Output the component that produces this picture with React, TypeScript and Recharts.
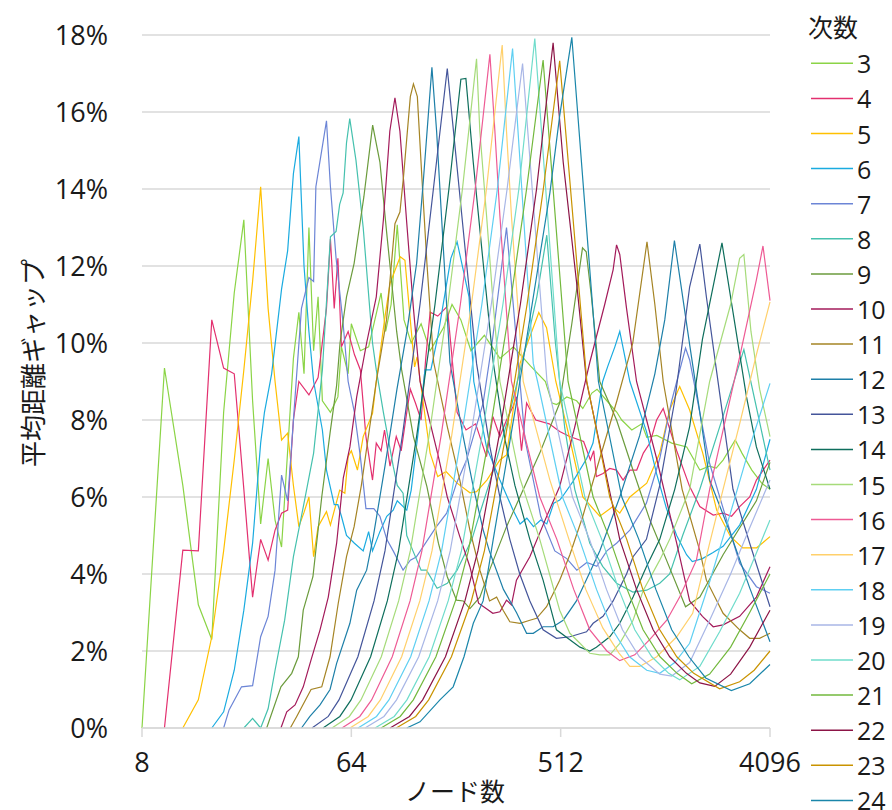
import { LineChart, Line, XAxis, YAxis, CartesianGrid } from 'recharts'

// node count n -> mean-distance gap (%), one list per degree
const deg3 = [[8,0],[10,9.35],[12,6.3],[14,3.2],[16,2.3],[18,8.2],[20,11.3],[22,13.2],[24,8.5],[26,5.3],[28,7.0],[30,5.4],[32,4.7],[34,7.2],[36,9.6],[38,10.8],[40,9.2],[42,13.0],[44,9.8],[46,11.2],[48,8.5],[52,8.2],[56,8.6],[58,9.9],[62,9.2],[64,10.5],[70,9.8],[76,9.9],[86,11.3],[90,10.3],[95,11.0],[101,13.07],[108,10.6],[116,10.0],[128,10.5],[140,9.8],[160,10.4],[174,11.0],[190,10.6],[210,9.8],[240,10.2],[280,9.6],[320,9.9],[380,9.4],[440,9.0],[470,8.44],[492,8.4],[544,8.6],[600,8.5],[638,8.3],[698,8.7],[735,8.8],[810,8.5],[895,8.2],[939,8.0],[1038,7.74],[1146,7.9],[1204,7.55],[1330,7.6],[1543,7.4],[1791,7.3],[2040,6.7],[2240,6.8],[2400,6.75],[2570,6.96],[2900,7.48],[3100,7.14],[3420,6.7],[3770,6.36],[4096,6.2]]
const deg4 = [[10,0],[12,4.62],[14,4.6],[16,10.6],[18,9.35],[20,9.2],[22,6.2],[24,3.4],[26,4.9],[28,4.36],[30,5.14],[32,5.58],[34,5.66],[36,8.0],[38,9.0],[42,8.65],[46,9.1],[50,10.9],[52,12.7],[54,10.9],[56,12.2],[58,9.9],[62,10.3],[66,9.7],[70,9.3],[74,7.57],[79,6.44],[82,7.4],[86,7.2],[89,7.74],[94,6.8],[100,7.57],[105,7.2],[111,8.2],[115,8.8],[121,8.44],[128,8.0],[134,9.6],[140,10.8],[151,10.7],[166,10.95],[183,8.2],[200,7.74],[220,7.9],[245,7.05],[261,8.09],[280,7.57],[299,8.0],[319,8.35],[330,8.6],[347,7.2],[365,8.44],[400,8.0],[457,7.9],[507,7.7],[560,7.57],[643,7.44],[688,6.96],[711,7.2],[730,6.53],[780,6.61],[834,6.74],[892,6.7],[952,6.44],[1018,6.7],[1090,6.7],[1164,7.14],[1242,7.4],[1328,8.0],[1418,8.3],[1621,7.2],[1844,6.27],[2040,5.75],[2330,5.53],[2570,5.58],[2796,5.5],[3030,5.75],[3348,6.0],[3578,6.44],[4096,6.96]]
const deg5 = [[12,0],[14,0.73],[16,2.37],[18,4.6],[20,6.96],[22,9.3],[24,11.6],[26,14.06],[28,10.9],[30,9.0],[32,7.48],[34,7.66],[36,6.3],[38,5.23],[40,5.6],[42,6.0],[44,4.45],[46,5.23],[50,5.62],[52,5.27],[57,6.18],[60,6.1],[62,7.05],[64,7.2],[68,6.7],[72,7.57],[79,8.17],[82,9.0],[89,10.6],[94,11.55],[104,12.24],[109,12.15],[116,10.34],[120,9.38],[123,9.64],[127,9.0],[140,7.14],[151,6.53],[164,6.66],[183,6.36],[208,6.11],[222,6.14],[246,6.44],[280,6.96],[299,7.09],[342,9.47],[412,10.79],[445,10.4],[488,9.0],[561,7.5],[638,6.0],[755,5.5],[860,5.75],[921,5.58],[1018,6.0],[1204,6.36],[1370,7.14],[1512,8.26],[1670,8.87],[1844,8.26],[2100,7.14],[2412,5.66],[2770,4.97],[3120,4.68],[3588,4.68],[4096,4.97]]
const deg6 = [[16,0],[18,0.42],[20,1.5],[22,3.06],[24,4.8],[26,7.4],[27,8.2],[29,9.2],[32,11.4],[34,12.4],[36,14.4],[38,15.36],[40,12.0],[42,10.3],[44,9.0],[48,7.74],[50,6.7],[54,5.8],[56,5.8],[58,5.5],[61,5.0],[66,4.8],[72,4.6],[76,5.1],[79,4.6],[85,5.1],[91,5.5],[97,5.66],[101,5.9],[111,5.66],[116,6.18],[125,7.8],[133,9.3],[141,9.3],[151,10.16],[172,12.2],[183,12.63],[196,11.8],[206,11.2],[216,9.0],[245,7.3],[280,6.44],[319,5.66],[342,5.3],[366,5.45],[391,5.23],[420,5.4],[446,5.3],[478,5.84],[507,5.92],[520,6.0],[578,6.4],[663,7.0],[706,7.4],[777,9.0],[818,9.4],[877,9.9],[921,10.3],[950,9.9],[1018,9.0],[1201,7.7],[1328,6.6],[1465,5.7],[1621,5.0],[1788,4.5],[1893,4.32],[2094,4.4],[2317,4.55],[2570,4.72],[3030,5.27],[3578,6.2],[4096,7.5]]
const deg7 = [[18,0],[19,0.47],[21.5,1.07],[24,1.1],[26,2.37],[28,2.9],[30,4.1],[32,6.57],[34,5.9],[37,9.0],[39,10.9],[42,11.7],[44,11.6],[45,14.06],[50,15.77],[52,14.06],[55,12.2],[59,10.5],[62,9.0],[66,8.2],[70,7.05],[74,5.7],[80,5.7],[85,5.5],[91,4.9],[97,4.6],[107,4.1],[115,4.36],[122,4.44],[149,5.23],[165,5.58],[182,6.36],[201,6.96],[215,7.57],[237,8.44],[259,10.0],[285,12.0],[299,13.0],[325,10.5],[359,7.5],[420,5.5],[483,4.6],[544,4.4],[601,4.1],[664,4.3],[733,4.2],[810,4.6],[892,4.8],[1018,5.14],[1200,5.84],[1370,7.0],[1543,8.5],[1770,9.87],[1844,9.56],[2249,6.87],[3030,4.28],[3578,3.67],[4096,3.5]]
const deg8 = [[22,0],[24,0.25],[26,0],[28,0.5],[30,1.5],[33,2.8],[36,4.45],[40,5.84],[44,7.14],[48,9.3],[52,12.76],[55,12.9],[57,13.6],[59,13.9],[61,15.2],[63,15.83],[67,14.75],[72,13.0],[79,10.0],[82,9.3],[88,8.2],[97,6.8],[101,6.3],[107,6.1],[111,5.0],[118,4.6],[128,4.1],[135,4.1],[150,3.63],[159,3.7],[166,3.76],[183,4.1],[212,4.9],[230,5.6],[266,6.8],[309,8.2],[359,9.8],[404,11.2],[446,12.8],[486,10.0],[533,7.8],[589,6.2],[684,4.8],[777,4.2],[892,3.76],[1048,3.53],[1204,3.58],[1370,3.76],[1512,4.0],[1720,5.0],[2040,6.2],[2570,8.1],[3160,9.83],[4096,6.7]]
const deg9 = [[27.6,0],[31.8,1.07],[35.4,1.42],[37.8,1.85],[39.7,3.06],[43.7,3.93],[47.7,6.0],[51.8,7.66],[55.3,8.9],[57.2,10.0],[61,11.2],[65.8,12.07],[72.5,13.8],[79.1,15.66],[85,14.7],[90.8,12.9],[100.4,10.3],[105.5,9.3],[118.6,7.57],[135.6,6.27],[152,4.8],[166,3.93],[182,3.32],[194.6,3.3],[207.8,3.1],[229.5,3.4],[252.6,4.1],[299,5.23],[416,7.14],[507,8.44],[572,10.5],[636,12.47],[660,12.37],[695,11.2],[755,9.0],[892,8.0],[1050,6.7],[1242,5.4],[1465,4.36],[1770,3.15],[2040,3.4],[2570,4.5],[3578,5.9],[4096,6.9]]
const deg10 = [[31.8,0],[33.7,0.42],[36.6,0.6],[39.7,1.07],[42.9,1.77],[46.9,2.55],[50.9,3.4],[55.3,4.8],[59.1,6.5],[63.1,7.3],[67.5,8.6],[74.5,10.0],[82,11.2],[88,13.2],[93.8,15.5],[98.7,16.37],[103.7,15.5],[110.7,13.2],[118.6,10.9],[126.6,9.0],[152,7.05],[166,6.0],[188,4.97],[207.8,4.19],[226.5,3.24],[245,3.1],[261,2.98],[280,3.02],[299,3.32],[314,3.2],[330,3.84],[377,4.45],[445,5.49],[507,6.27],[588,7.8],[684,9.5],[793,11.0],[862,11.9],[892,12.55],[921,12.3],[985,10.9],[1088,9.0],[1328,7.0],[1621,4.8],[1844,3.3],[2094,2.9],[2330,2.63],[2570,2.68],[3030,2.9],[3578,3.4],[4096,4.19]]
const deg11 = [[34.9,0],[37.2,0.3],[42.9,1.0],[47.7,1.07],[51.8,1.85],[56.2,3.24],[61,4.45],[65.8,5.23],[70.7,6.3],[75.9,7.6],[82,9.0],[90.8,10.6],[98.7,13.1],[103.7,13.4],[107.4,14.3],[115,16.4],[118.6,16.73],[123.3,16.4],[129,14.3],[135.6,12.07],[145,9.5],[166,7.83],[188,6.44],[207.8,5.14],[229.5,4.1],[252.6,3.3],[271,3.4],[289,3.06],[309,2.76],[342,2.72],[377,2.8],[403,2.85],[445,3.15],[476,3.5],[507,3.84],[561,4.5],[638,5.5],[755,7.0],[895,8.5],[1048,10.0],[1207,12.63],[1305,11.0],[1418,9.0],[1711,6.2],[2040,4.6],[2177,3.84],[2570,2.98],[3030,2.55],[3348,2.33],[3695,2.33],[4096,2.46]]
const deg12 = [[39,0],[42.4,0.3],[46.9,0.6],[51.8,1.0],[55.3,1.68],[63.1,2.72],[67.5,3.58],[74.5,4.1],[79.6,4.97],[89.4,6.8],[100.7,8.8],[111.2,10.3],[122.4,12.07],[130.8,14.2],[142.5,17.16],[149.3,15.5],[159.5,12.5],[170.4,9.5],[194.5,7.57],[214.8,6.27],[237.2,5.14],[252,4.6],[290,3.6],[330,3.0],[365,2.46],[390,2.46],[430,2.63],[475,2.63],[525,2.8],[599,3.3],[755,4.6],[921,6.0],[1123,7.6],[1305,9.2],[1440,10.6],[1585,12.66],[1844,9.96],[2040,8.2],[2249,6.44],[2770,5.04],[3348,3.64],[4096,2.24]]
const deg13 = [[43.3,0],[50.9,0.3],[56.6,0.73],[68.3,1.85],[80.2,3.3],[89.4,4.6],[106.3,7.6],[126.6,11.0],[144.6,14.0],[166,17.13],[182,14.7],[201,12.07],[222,9.47],[253.5,7.3],[280,6.0],[309,4.9],[341,4.0],[377,3.3],[430,2.55],[491,2.33],[561,2.37],[662,2.5],[707,2.72],[780,2.9],[862,3.3],[985,4.0],[1051,4.45],[1200,4.9],[1370,6.3],[1590,8.5],[1844,11.46],[2040,12.57],[2177,11.2],[2405,9.3],[2836,6.2],[3348,4.8],[4096,3.15]]
const deg14 = [[48.3,0],[57.1,0.3],[63.8,0.73],[77.5,1.85],[91.5,3.3],[102.3,4.6],[122.6,7.6],[146.9,11.0],[168.7,14.0],[190,16.85],[199.7,16.87],[214.8,14.7],[237.2,12.07],[262,9.5],[294.3,7.5],[325,6.3],[377,4.9],[430,3.84],[491,2.55],[620,2.1],[684,2.0],[730,2.1],[834,2.37],[921,2.72],[1051,3.4],[1200,4.19],[1370,4.9],[1590,6.2],[1844,7.83],[2094,10.1],[2542,12.6],[2836,10.8],[3243,8.6],[3578,7.3],[4096,6.2]]
const deg15 = [[52.8,0],[62.7,0.3],[70.4,0.73],[86.2,1.85],[102.4,3.3],[115,4.6],[138.6,7.6],[167,11.0],[193,14.0],[222,17.38],[229.4,15.5],[245.3,13.3],[262,11.0],[280,9.0],[341,6.5],[416,4.9],[507,3.06],[561,2.46],[620,2.2],[684,1.94],[755,1.9],[834,1.9],[921,2.2],[1051,2.8],[1164,3.58],[1370,4.36],[1512,4.9],[1844,6.2],[2249,9.0],[2770,11.0],[3030,12.2],[3160,12.3],[3390,10.3],[3695,8.8],[4096,7.57]]
const deg16 = [[58.3,0],[69.6,0.3],[78.3,0.73],[96.1,1.85],[114.7,3.3],[129,4.6],[156.2,7.6],[189,11.0],[219,14.0],[253.5,17.5],[266.4,15.5],[280,13.3],[299,10.8],[314,9.0],[416,6.0],[493,4.9],[583,3.6],[684,2.55],[810,2.0],[921,1.75],[1069,1.9],[1242,2.3],[1469,2.8],[1670,3.4],[1972,4.36],[2249,6.2],[2570,7.74],[3030,9.64],[3578,11.64],[3820,12.52],[4096,11.1]]
const deg17 = [[63.1,0],[75.7,0.3],[85.4,0.73],[105.5,1.85],[126.4,3.3],[142.6,4.6],[173.5,7.6],[211,11.0],[245,14.0],[286.4,17.74],[299,15.5],[314,13.3],[336,10.8],[353,9.0],[460,6.44],[556,4.9],[657,3.6],[778,2.6],[912,1.95],[1018,1.6],[1123,1.6],[1330,1.85],[1622,2.37],[1900,2.98],[2249,4.8],[2570,6.2],[3030,7.9],[3578,9.7],[4096,11.07]]
const deg18 = [[68.4,0],[82.2,0.3],[93,0.73],[115.4,1.85],[138.5,3.3],[156.9,4.6],[191.3,7.6],[234,11.0],[273,14.0],[317.5,17.65],[342,14.7],[365,12.07],[390,9.47],[407,9.0],[521,6.0],[617,4.9],[731,3.6],[857,2.55],[1014,1.85],[1204,1.5],[1370,1.42],[1590,1.7],[1844,2.2],[2249,3.8],[2770,5.6],[3348,7.3],[4096,8.95]]
const deg19 = [[73.3,0],[88.5,0.3],[100.3,0.73],[125,1.85],[150.9,3.3],[170.9,4.6],[209.8,7.6],[257,11.0],[300.7,14.0],[350.7,17.26],[447,9.0],[576,6.0],[682,4.9],[807,3.6],[946,2.55],[1119,1.85],[1370,1.4],[1543,1.35],[1844,1.7],[2249,2.8],[2770,4.0],[3348,5.2],[4096,6.44]]
const deg20 = [[81,0],[98,0.3],[111.2,0.73],[138.8,1.85],[167.5,3.3],[191,4.6],[234.6,7.6],[288.4,11.0],[338,14.0],[396,17.91],[507,9.0],[651,6.0],[770,4.9],[912,3.6],[1069,2.55],[1266,1.85],[1498,1.42],[1670,1.25],[2040,1.6],[2483,2.5],[3030,3.5],[4096,5.4]]
const deg21 = [[86,0],[104,0.3],[118.5,0.73],[148.3,1.85],[180,3.3],[204.7,4.6],[252,7.6],[310,11.0],[365,14.0],[430,17.35],[551,9.0],[707,6.0],[836,4.9],[991,3.6],[1161,2.55],[1374,1.85],[1627,1.42],[1882,1.15],[2249,1.4],[2770,2.1],[3348,3.0],[4096,4.0]]
const deg22 = [[94,0],[114,0.3],[130,0.73],[163,1.85],[197.8,3.3],[225,4.6],[278,7.6],[343,11.0],[403,14.0],[475,17.8],[525,14.7],[599,11.6],[662,9.0],[921,4.9],[1088,3.6],[1283,2.55],[1512,1.85],[1786,1.42],[2040,1.17],[2365,1.08],[2770,1.4],[3348,2.1],[4096,3.06]]
const deg23 = [[100,0],[121.3,0.3],[138,0.73],[173,1.85],[210.8,3.3],[240,4.6],[296.8,7.6],[366.7,11.0],[431,14.0],[507,17.33],[664,9.0],[834,6.0],[987,4.9],[1158,3.6],[1370,2.55],[1622,1.85],[1920,1.42],[2483,1.02],[3030,1.2],[3500,1.5],[4096,2.0]]
const deg24 = [[111,0],[126.6,0.16],[154.3,0.73],[176,1.07],[196,1.85],[215,2.72],[237,3.3],[262,4.9],[331,8.5],[460,13.9],[507,15.9],[572,17.94],[745,9.0],[940,6.0],[1113,4.9],[1318,3.6],[1543,2.55],[1830,1.85],[2163,1.3],[2790,0.97],[3348,1.15],[4096,1.65]]

const degrees = [3, 4, 5, 6, 7, 8, 9, 10, 11, 12, 13, 14, 15, 16, 17, 18, 19, 20, 21, 22, 23, 24]
const seriesValues = [deg3, deg4, deg5, deg6, deg7, deg8, deg9, deg10, deg11, deg12, deg13, deg14, deg15, deg16, deg17, deg18, deg19, deg20, deg21, deg22, deg23, deg24]
const colors = [
  '#8BD446', '#E3306F', '#FFC000', '#1AABE0', '#6C85D6', '#45C1AE',
  '#6B9B3C', '#A31A5A', '#A58424', '#1D7FA8', '#44559A', '#0E6E5C',
  '#A6DB7A', '#EE5A94', '#FFD06B', '#5ECFF2', '#A8B6E6', '#6FDCCB',
  '#72B83C', '#8C1446', '#C99300', '#1A86AA',
]

const xTicks = [8, 64, 512, 4096]
const yTicks = [0, 2, 4, 6, 8, 10, 12, 14, 16, 18]

const FONT = "'Open Sans', 'Noto Sans CJK JP', sans-serif"

const series = degrees.map((d, i) => ({
  degree: d,
  color: colors[i],
  data: seriesValues[i].map(([n, v]) => ({ n, v })),
}))

export default function App() {
  return (
    <div style={{ position: 'absolute', left: 0, top: 0, width: 892, height: 810, background: '#fff', overflow: 'hidden', fontFamily: FONT }}>
      <LineChart width={892} height={810} margin={{ top: 35, right: 122, bottom: 32, left: 0 }}>
        <CartesianGrid vertical={false} stroke="#d9d9d9" strokeWidth={1.5} />
        <XAxis
          type="number"
          dataKey="n"
          scale="log"
          domain={[8, 4096]}
          ticks={xTicks}
          height={50}
          tickSize={9}
          tickMargin={16}
          axisLine={{ stroke: '#d9d9d9', strokeWidth: 1.5 }}
          tickLine={{ stroke: '#d9d9d9', strokeWidth: 1.5 }}
          tick={{ fill: '#1a1a1a', fontSize: 27, fontFamily: FONT }}
        />
        <YAxis
          type="number"
          domain={[0, 18]}
          ticks={yTicks}
          width={142}
          axisLine={false}
          tickLine={false}
          tickMargin={28}
          tickFormatter={(v: number) => `${v}%`}
          tick={{ fill: '#1a1a1a', fontSize: 27, fontFamily: FONT }}
        />
        {series.map(s => (
          <Line
            key={s.degree}
            data={s.data}
            dataKey="v"
            type="linear"
            stroke={s.color}
            strokeWidth={1.2}
            dot={false}
            activeDot={false}
            isAnimationActive={false}
          />
        ))}
      </LineChart>

      <svg width={892} height={810} style={{ position: 'absolute', left: 0, top: 0, pointerEvents: 'none' }}>
        <text x={33} y={363} transform="rotate(-90 33 363)" textAnchor="middle" dominantBaseline="central" fontSize={26} fill="#1a1a1a" fontFamily={FONT}>
          平均距離ギャップ
        </text>
        <text x={455} y={791} textAnchor="middle" dominantBaseline="central" fontSize={25} fill="#1a1a1a" fontFamily={FONT}>
          ノード数
        </text>
        <text x={808} y={27} dominantBaseline="central" fontSize={25} fill="#1a1a1a" fontFamily={FONT}>
          次数
        </text>
        {series.map((s, i) => {
          const y = 63.3 + i * 35.1
          return (
            <g key={s.degree}>
              <line x1={811} x2={853} y1={y} y2={y} stroke={s.color} strokeWidth={1.5} />
              <text x={857} y={y} dominantBaseline="central" fontSize={25} fill="#1a1a1a" fontFamily={FONT}>
                {s.degree}
              </text>
            </g>
          )
        })}
      </svg>
    </div>
  )
}
